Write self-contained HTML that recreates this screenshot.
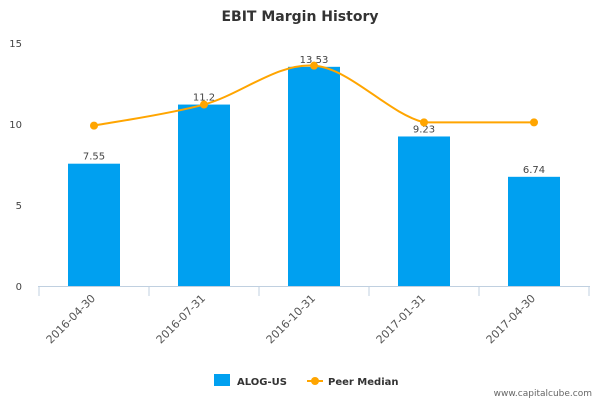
<!DOCTYPE html>
<html><head><meta charset="utf-8"><style>
body{margin:0;background:#fff;font-family:"Liberation Sans","DejaVu Sans",sans-serif}
svg text{font-family:"DejaVu Sans","Liberation Sans",sans-serif}
</style></head><body>
<svg id="chart" width="600" height="400" xmlns="http://www.w3.org/2000/svg">
<text x="300" y="21" text-anchor="middle" font-size="14" font-weight="bold" fill="#333">EBIT Margin History</text>
<g id="grid"></g><g id="bars"></g><g id="line"></g><g id="xaxis"></g>
<g>
<rect x="214" y="374" width="16" height="12" fill="#00a0f0"/>
<text x="237" y="385" font-size="10" font-weight="bold" fill="#333">ALOG-US</text>
<line x1="307" y1="381" x2="323" y2="381" stroke="#ffa500" stroke-width="2"/>
<circle cx="315" cy="381" r="4" fill="#ffa500"/>
<text x="328" y="385" font-size="10" font-weight="bold" fill="#333">Peer Median</text>
</g>
<text x="592" y="396" text-anchor="end" font-size="9" fill="#666">www.capitalcube.com</text>
</svg>
<script>
const categories=["2016-04-30","2016-07-31","2016-10-31","2017-01-31","2017-04-30"];
const alogValues=[7.55,11.2,13.53,9.23,6.74];
const valueLabels=["7.55","11.2","13.53","9.23","6.74"];
const peerValues=[9.9,11.2,13.6,10.1,10.1];
const yTicks=[0,5,10,15];
const NS="http://www.w3.org/2000/svg";
const x0=39,x1=589,y0=286,yTop=43;
const bw=(x1-x0)/categories.length;
const X=i=>x0+bw*(i+0.5);
const Y=v=>y0-(v/15)*(y0-yTop);
function mk(t,a,p){const e=document.createElementNS(NS,t);for(const k in a)e.setAttribute(k,a[k]);p.appendChild(e);return e;}
const grid=document.getElementById('grid');
yTicks.forEach(v=>{const t=mk('text',{x:22,y:Y(v)+4,'text-anchor':'end','font-size':10,fill:'#444'},grid);t.textContent=v;

});
const bars=document.getElementById('bars');
alogValues.forEach((v,i)=>{const r=mk('rect',{x:X(i)-26,y:Y(v),width:52,height:y0-Y(v),fill:'#00a0f0'},bars);


const t=mk('text',{x:X(i),y:Y(v)-4,'text-anchor':'middle','font-size':10,fill:'#444'},bars);t.textContent=valueLabels[i];

});
const lg=document.getElementById('line');
const pts=peerValues.map((v,i)=>[X(i),Y(v)]);
let d='M'+pts[0][0]+','+pts[0][1];
for(let i=0;i<pts.length-1;i++){const p0=pts[Math.max(0,i-1)],p1=pts[i],p2=pts[i+1],p3=pts[Math.min(pts.length-1,i+2)];
const c1=[p1[0]+(p2[0]-p0[0])/6,p1[1]+(p2[1]-p0[1])/6],c2=[p2[0]-(p3[0]-p1[0])/6,p2[1]-(p3[1]-p1[1])/6];
if(i==pts.length-2){c1[1]=p1[1];c2[1]=p2[1];}
d+=` C${c1[0]},${c1[1]} ${c2[0]},${c2[1]} ${p2[0]},${p2[1]}`;}
const pl=mk('path',{d:d,fill:'none',stroke:'#ffa500','stroke-width':2},lg);


pts.forEach((p,i)=>{const c=mk('circle',{cx:p[0],cy:p[1],r:4,fill:'#ffa500'},lg);

});
const xa=document.getElementById('xaxis');
const al=mk('line',{x1:x0-1,y1:y0+0.5,x2:x1+1,y2:y0+0.5,stroke:'#c0d0e0'},xa);


for(let i=0;i<=categories.length;i++){mk('line',{x1:x0+bw*i,y1:y0,x2:x0+bw*i,y2:y0+10,stroke:'#c0d0e0'},xa);}
categories.forEach((c,i)=>{const t=mk('text',{x:X(i)+2,y:y0+13,'text-anchor':'end','font-size':11,fill:'#555',transform:`rotate(-45 ${X(i)+2} ${y0+13})`},xa);t.textContent=c;

});
</script>
</body></html>
